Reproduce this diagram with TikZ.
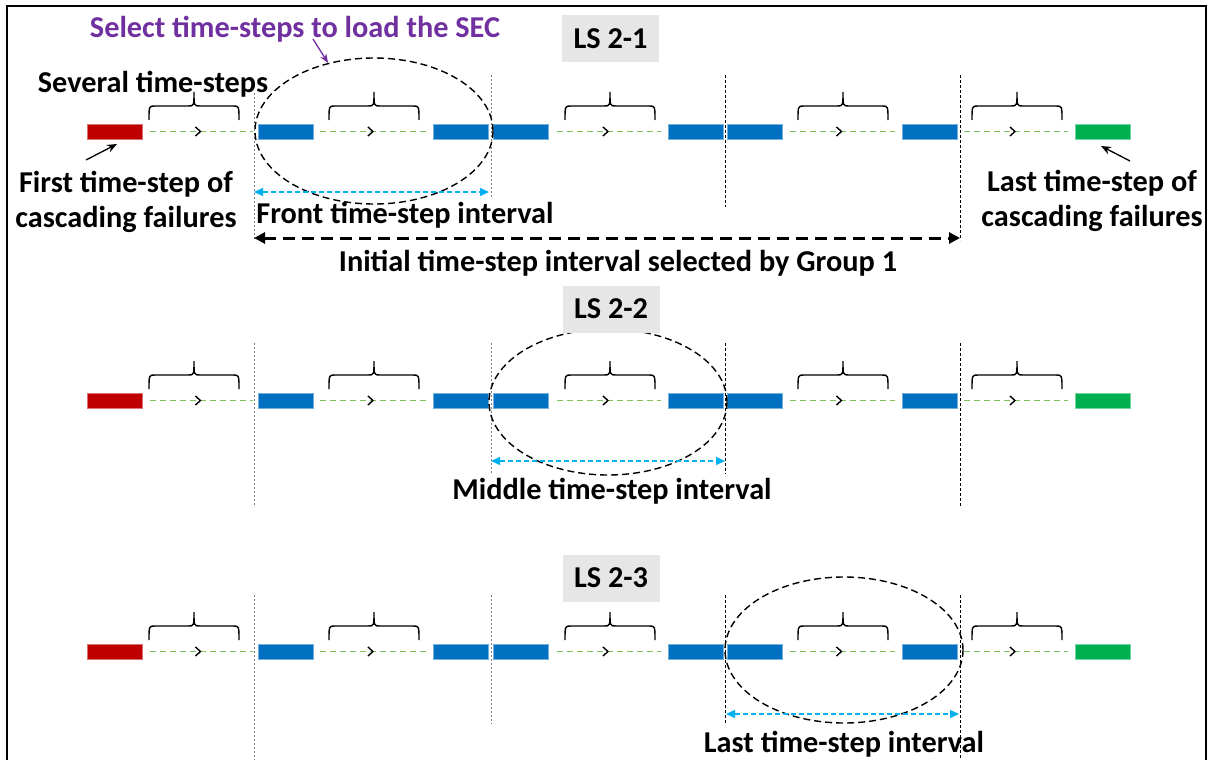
\documentclass[tikz,border=0pt]{standalone}
\usepackage{fontspec}
\setmainfont{Carlito}
\usetikzlibrary{arrows.meta,decorations.markings,shapes.geometric}
\definecolor{barred}{RGB}{192,0,0}
\definecolor{barblue}{RGB}{0,112,192}
\definecolor{bargreen}{RGB}{0,176,80}
\definecolor{flowgreen}{RGB}{130,195,85}
\definecolor{sky}{RGB}{0,176,240}
\definecolor{violet}{RGB}{112,48,160}
\definecolor{tagfill}{RGB}{230,230,230}
\definecolor{divgray}{RGB}{125,125,125}

\tikzset{
  lbl/.style={font=\fontsize{30.3}{35}\selectfont\bfseries, inner sep=0pt, align=center},
  tag/.style={lbl, fill=tagfill, minimum width=97pt, minimum height=47pt},
  bar/.style={minimum width=55pt, minimum height=15pt, inner sep=0pt, outer sep=0pt, line width=0.8pt},
  redbar/.style={bar, fill=barred, draw=barred!55!white},
  bluebar/.style={bar, fill=barblue, draw=barblue!55!white},
  greenbar/.style={bar, fill=bargreen, draw=bargreen!55!white},
  flow/.style={flowgreen, line width=1.8pt, dash pattern=on 6pt off 4pt,
    postaction={decorate},
    decoration={markings, mark=at position 0.5 with
      {\arrow[black, solid, line width=1.4pt]{Straight Barb[length=5pt,width=9pt]}}}},
  brc/.style={black, line width=1.4pt},
  divlight/.style={divgray, line width=1pt, dash pattern=on 2pt off 2pt},
  divdark/.style={black, line width=0.8pt, dash pattern=on 3pt off 2pt},
  ring/.style={ellipse, draw=black, line width=1.4pt, dash pattern=on 7pt off 4pt,
    inner sep=0pt, minimum width=238pt, minimum height=146pt},
  span/.style={sky, line width=1.3pt, dash pattern=on 5pt off 3pt,
    {Triangle[length=9pt,width=8pt]}-{Triangle[length=9pt,width=8pt]}},
  widespan/.style={black, line width=3pt, dash pattern=on 12pt off 7pt,
    {Triangle[length=11pt,width=11pt]}-{Triangle[length=11pt,width=11pt]}},
  ptr/.style={black, line width=1.3pt, -{Stealth[length=10pt,width=8pt]}},
  vptr/.style={violet, line width=1.3pt, -{Stealth[length=9pt,width=7pt]}},
}

% curly bracket over a gap: centre x, tip y
\newcommand{\capbrace}[2]{%
  \draw[brc] (#1-45,#2+28) .. controls (#1-45,#2+14) .. (#1-39,#2+14)
    -- (#1-6,#2+14) .. controls (#1,#2+14) .. (#1,#2)
    .. controls (#1,#2+14) .. (#1+6,#2+14) -- (#1+39,#2+14)
    .. controls (#1+45,#2+14) .. (#1+45,#2+28);}

\begin{document}
\begin{tikzpicture}[x=1pt,y=-1pt]
\useasboundingbox (0,0) rectangle (1210,760);
\fill[white] (0,0) rectangle (1210,760);

% outer frame
\draw[line width=2pt] (7,762) -- (7,6) -- (1206,6) -- (1206,762);

% dividers between time-step intervals
\draw[divlight] (254,93) -- (254,240);
\draw[divlight] (491,75) -- (491,197);
\draw[divdark]  (725,75) -- (725,207);
\draw[divdark]  (960,75) -- (960,240);
\draw[divlight] (254,343) -- (254,507);
\draw[divlight] (491,343) -- (491,474);
\draw[divdark]  (725,343) -- (725,474);
\draw[divdark]  (960,343) -- (960,507);
\draw[divlight] (254,595) -- (254,762);
\draw[divlight] (491,595) -- (491,724);
\draw[divdark]  (725,595) -- (725,725);
\draw[divdark]  (960,595) -- (960,762);

% three rows of time-steps
\foreach \r/\y in {1/131.5, 2/400.5, 3/651.5}{
  \node[redbar]   (s\r0) at (114.5,\y) {};
  \node[bluebar]  (s\r1) at (285.5,\y) {};
  \node[bluebar]  (s\r2) at (460.5,\y) {};
  \node[bluebar]  (s\r3) at (520.5,\y) {};
  \node[bluebar]  (s\r4) at (695.5,\y) {};
  \node[bluebar]  (s\r5) at (754.5,\y) {};
  \node[bluebar]  (s\r6) at (929.5,\y) {};
  \node[greenbar] (s\r7) at (1102.5,\y) {};
  \draw[flow] ([xshift=8pt]s\r0.east) -- ([xshift=-5pt]s\r1.west);
  \draw[flow] ([xshift=7pt]s\r1.east) -- ([xshift=-5pt]s\r2.west);
  \draw[flow] ([xshift=9pt]s\r3.east) -- ([xshift=-7pt]s\r4.west);
  \draw[flow] ([xshift=8pt]s\r5.east) -- ([xshift=-7pt]s\r6.west);
  \draw[flow] ([xshift=7pt]s\r6.east) -- ([xshift=-7pt]s\r7.west);
  \pgfmathsetmacro{\t}{\y-39.5}
  \capbrace{194}{\t}
  \capbrace{374}{\t}
  \capbrace{610}{\t}
  \capbrace{843}{\t}
  \capbrace{1017}{\t}
}

% selection rings
\node[ring] (e1) at (374,131) {};
\node[ring] (e2) at (608,402) {};
\node[ring] (e3) at (844,650) {};

% labels
\node[lbl, text=violet] (sel) at (295,29) {Select time-steps to load the SEC};
\node[tag] (ls1) at (610.5,39) {LS 2-1};
\node[tag] (ls2) at (611,309) {LS 2-2};
\node[tag] (ls3) at (611,578) {LS 2-3};
\node[lbl] (sev) at (153,84) {Several time-steps};
\node[lbl] (first) at (126,202) {First time-step of\\cascading failures};
\node[lbl] (lastl) at (1092,201) {Last time-step of\\cascading failures};
\node[lbl] (front) at (405,215) {Front time-step interval};
\node[lbl] (init) at (618,263) {Initial time-step interval selected by Group 1};
\node[lbl] (mid) at (612,491) {Middle time-step interval};
\node[lbl] (lasti) at (844,744) {Last time-step interval};

% interval spans
\coordinate (f0) at (254,192);  \coordinate (f1) at (489,192);
\coordinate (g0) at (254,238);  \coordinate (g1) at (960,238);
\coordinate (m0) at (491,461);  \coordinate (m1) at (725,461);
\coordinate (l0) at (726,714);  \coordinate (l1) at (959,714);
\draw[span] (f0) -- (f1);
\draw[widespan] (g0) -- (g1);
\draw[span] (m0) -- (m1);
\draw[span] (l0) -- (l1);

% pointers
\coordinate (fp) at (86,160);
\coordinate (lp) at (1130,161);
\coordinate (sp) at (313,39);
\draw[ptr] (fp) -- ([xshift=2.5pt,yshift=-5pt]s10.south);
\draw[ptr] (lp) -- ([xshift=-1.5pt,yshift=-7pt]s17.south);
\draw[vptr] (sp) -- (e1.124);
\end{tikzpicture}
\end{document}
